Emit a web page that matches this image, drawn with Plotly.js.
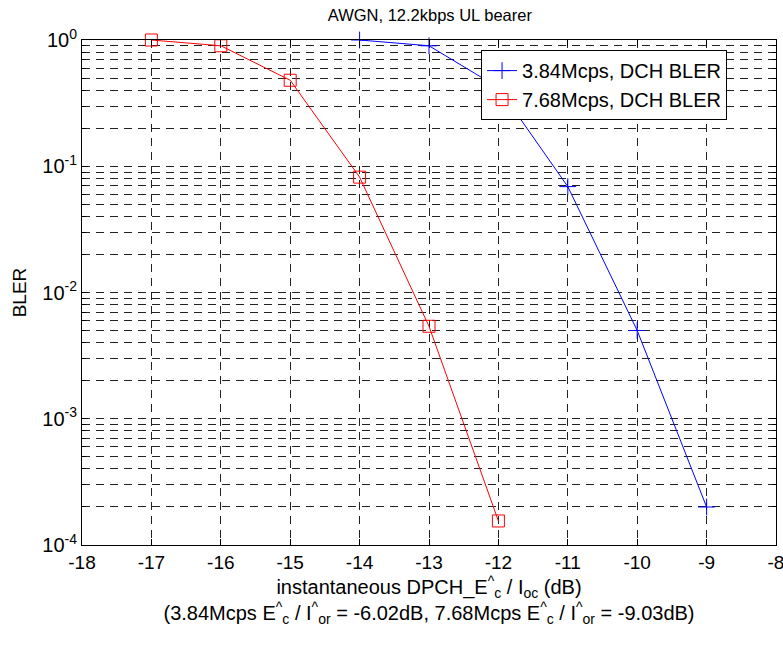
<!DOCTYPE html>
<html>
<head>
<meta charset="utf-8">
<script src="https://cdn.plot.ly/plotly-2.35.2.min.js"></script>
<style>html,body{margin:0;padding:0;background:#fff;}#chart{width:783px;height:648px;}</style>
</head>
<body>
<div id="chart"></div>
<script>
// Data
const x384 = [-14, -13, -12, -11, -10, -9];
const bler384 = [1.0, 0.9, 0.42, 0.069, 0.005, 0.0002];
const x768 = [-17, -16, -15, -14, -13, -12];
const bler768 = [1.0, 0.9, 0.48, 0.082, 0.0054, 0.000155];
const yTickVals = [1e-4, 1e-3, 1e-2, 1e-1, 1];
const yTickText = ['10<sup>-4</sup>', '10<sup>-3</sup>', '10<sup>-2</sup>', '10<sup>-1</sup>', '10<sup>0</sup>'];
const yMinorDigits = [2, 3, 4, 5, 6, 7, 8, 9];
const yDecades = [1e-4, 1e-3, 1e-2, 1e-1];
const xTickVals = [-18, -17, -16, -15, -14, -13, -12, -11, -10, -9, -8];
const xTickText = ['-18', '-17', '-16', '-15', '-14', '-13', '-12', '-11', '-10', '-9', '-8'];
const names = ['3.84Mcps, DCH BLER', '7.68Mcps, DCH BLER'];

const yMinorVals = [];
yDecades.forEach(d => yMinorDigits.forEach(m => yMinorVals.push(d * m)));

const font = 'Liberation Sans, Arial, Helvetica, sans-serif';
const gridDash = '8px,6px';
const gridColor = '#222';

const traces = [
  {
    x: x384, y: bler384, name: names[0], type: 'scatter', mode: 'lines+markers', cliponaxis: false,
    line: {color: '#0000ff', width: 1},
    marker: {symbol: 'cross-thin-open', size: 12, color: '#0000ff', line: {color: '#0000ff', width: 1}}
  },
  {
    x: x768, y: bler768, name: names[1], type: 'scatter', mode: 'lines+markers', cliponaxis: false,
    line: {color: '#ff0000', width: 1},
    marker: {symbol: 'square-open', size: 12, color: '#ff0000', line: {color: '#ff0000', width: 1}}
  }
];

const layout = {
  width: 783, height: 648,
  margin: {l: 82, r: 7, t: 40, b: 103},
  paper_bgcolor: '#fff', plot_bgcolor: '#fff',
  font: {family: font, size: 19, color: '#000'},
  title: {text: 'AWGN, 12.2kbps UL bearer', x: 0.549, xanchor: 'center', y: 0.977, yanchor: 'middle', font: {size: 16.5, family: font}},
  showlegend: true,
  legend: {
    x: 0.575, y: 0.980, xanchor: 'left', yanchor: 'top',
    bgcolor: '#fff', bordercolor: '#000', borderwidth: 1,
    font: {size: 20, family: font}, tracegroupgap: 0
  },
  xaxis: {
    range: [-18, -8], tickvals: xTickVals, ticktext: xTickText, ticks: 'inside', ticklen: 6, tickcolor: '#000',
    showline: true, linecolor: '#000', linewidth: 1, mirror: 'ticks',
    showgrid: true, gridcolor: gridColor, gridwidth: 1, griddash: gridDash,
    zeroline: false, tickfont: {size: 19}, ticklabeloverflow: 'allow',
    title: {text: 'instantaneous DPCH_E<sup>^</sup><sub>c</sub> / I<sub>oc</sub> (dB)<br>(3.84Mcps E<sup>^</sup><sub>c</sub> / I<sup>^</sup><sub>or</sub> = -6.02dB, 7.68Mcps E<sup>^</sup><sub>c</sub> / I<sup>^</sup><sub>or</sub> = -9.03dB)', font: {size: 20}, standoff: 7}
  },
  yaxis: {
    type: 'log', range: [-4, 0], tickvals: yTickVals, ticktext: yTickText,
    ticks: 'inside', ticklen: 6, tickcolor: '#000',
    showline: true, linecolor: '#000', linewidth: 1, mirror: 'ticks',
    showgrid: true, gridcolor: gridColor, gridwidth: 1, griddash: gridDash,
    minor: {tickmode: 'array', tickvals: yMinorVals, ticks: 'inside', ticklen: 4, tickcolor: '#000', showgrid: true, gridcolor: gridColor, gridwidth: 1, griddash: gridDash},
    zeroline: false, tickfont: {size: 20}, ticklabeloverflow: 'allow',
    title: {text: 'BLER', font: {size: 19}, standoff: 10}
  }
};

Plotly.newPlot('chart', traces, layout, {displayModeBar: false, staticPlot: true});
</script>
</body>
</html>
